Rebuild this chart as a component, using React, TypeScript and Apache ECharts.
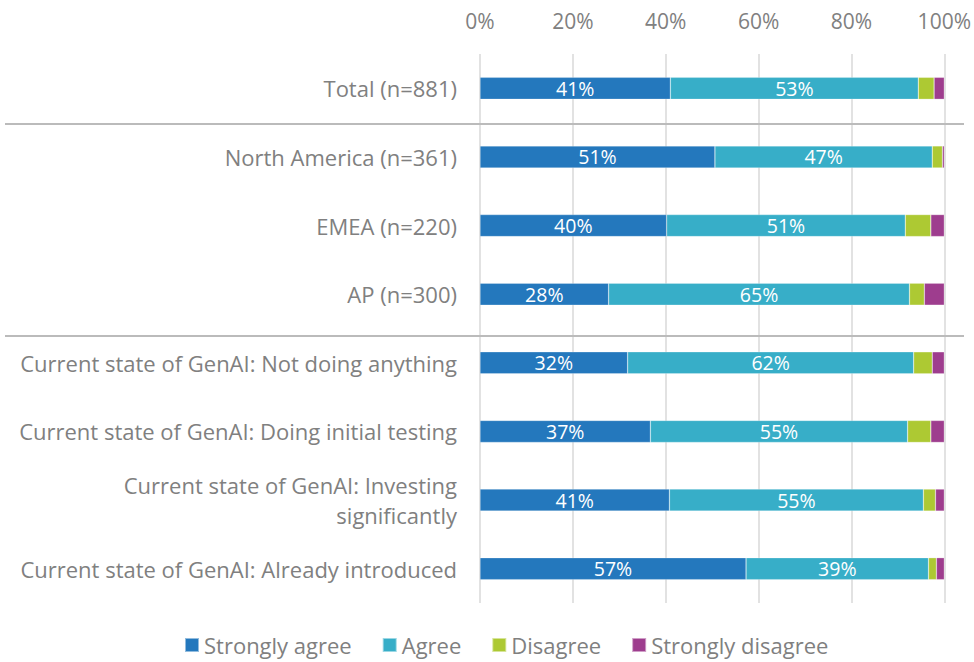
import React, { useEffect, useRef } from "react";
import * as echarts from "echarts";

const categories = [
  "Total (n=881)",
  "North America (n=361)",
  "EMEA (n=220)",
  "AP (n=300)",
  "Current state of GenAI: Not doing anything",
  "Current state of GenAI: Doing initial testing",
  "Current state of GenAI: Investing\nsignificantly",
  "Current state of GenAI: Already introduced",
];

const stronglyAgree = [41.0, 50.6, 40.2, 27.7, 31.8, 36.7, 40.8, 57.3];
const agree = [53.4, 46.8, 51.4, 64.8, 61.6, 55.4, 54.7, 39.3];
const disagree = [3.4, 2.2, 5.5, 3.2, 4.0, 5.0, 2.6, 1.7];
const stronglyDisagree = [2.2, 0.4, 2.9, 4.3, 2.6, 2.9, 1.9, 1.7];

const seriesNames = ["Strongly agree", "Agree", "Disagree", "Strongly disagree"];
const colors = ["#2478bd", "#37aec8", "#adc933", "#9e3d8e"];
const xTicks = [0, 20, 40, 60, 80, 100];

const FONT = "'Open Sans', 'Noto Sans', sans-serif";

export default function App() {
  const ref = useRef<HTMLDivElement>(null);
  useEffect(() => {
    document.body.style.margin = "0";
    const chart = echarts.init(ref.current!, null, { renderer: "svg" });
    const dataSets = [stronglyAgree, agree, disagree, stronglyDisagree];
    chart.setOption({
      animation: false,
      textStyle: { fontFamily: FONT },
      grid: { left: 480, right: 28, top: 54, bottom: 59, containLabel: false },
      legend: {
        bottom: 1,
        left: 179,
        itemWidth: 14,
        itemHeight: 14,
        itemGap: 30,
        icon: "rect",
        textStyle: { fontFamily: FONT, fontSize: 22, color: "#808080", padding: [0, 0, 0, 0] },
        data: seriesNames,
      },
      xAxis: {
        type: "value",
        position: "top",
        min: xTicks[0],
        max: xTicks[xTicks.length - 1],
        interval: 20,
        axisLine: { show: false },
        axisTick: { show: false },
        axisLabel: {
          formatter: "{value}%",
          color: "#808080",
          fontSize: 21,
          fontFamily: FONT,
          margin: 23,
        },
        splitLine: { show: true, lineStyle: { color: "#e2e2e2", width: 2 } },
      },
      yAxis: {
        type: "category",
        inverse: true,
        data: categories,
        axisLine: { show: false },
        axisTick: { show: false },
        axisLabel: {
          color: "#808080",
          fontSize: 22,
          fontFamily: FONT,
          margin: 23,
          lineHeight: 30,
          align: "right",
        },
      },
      series: dataSets.map((d, i) => ({
        name: seriesNames[i],
        type: "bar",
        stack: "total",
        barWidth: 22,
        data: d,
        itemStyle: { color: colors[i], borderColor: "rgba(255,255,255,0.5)", borderWidth: 0.5 },
        label: {
          show: true,
          position: "inside",
          color: "#ffffff",
          fontSize: 19.5,
          fontFamily: FONT,
          formatter: (p: any) => (p.value >= 10 ? Math.round(p.value) + "%" : ""),
        },
      })),
      graphic: [
        { type: "line", shape: { x1: 5, y1: 124, x2: 964, y2: 124 }, style: { stroke: "#bbbbbb", lineWidth: 2 }, z: 100 },
        { type: "line", shape: { x1: 5, y1: 336, x2: 964, y2: 336 }, style: { stroke: "#bbbbbb", lineWidth: 2 }, z: 100 },
      ],
    });
    return () => chart.dispose();
  }, []);
  return <div ref={ref} style={{ width: 974, height: 662 }} />;
}
